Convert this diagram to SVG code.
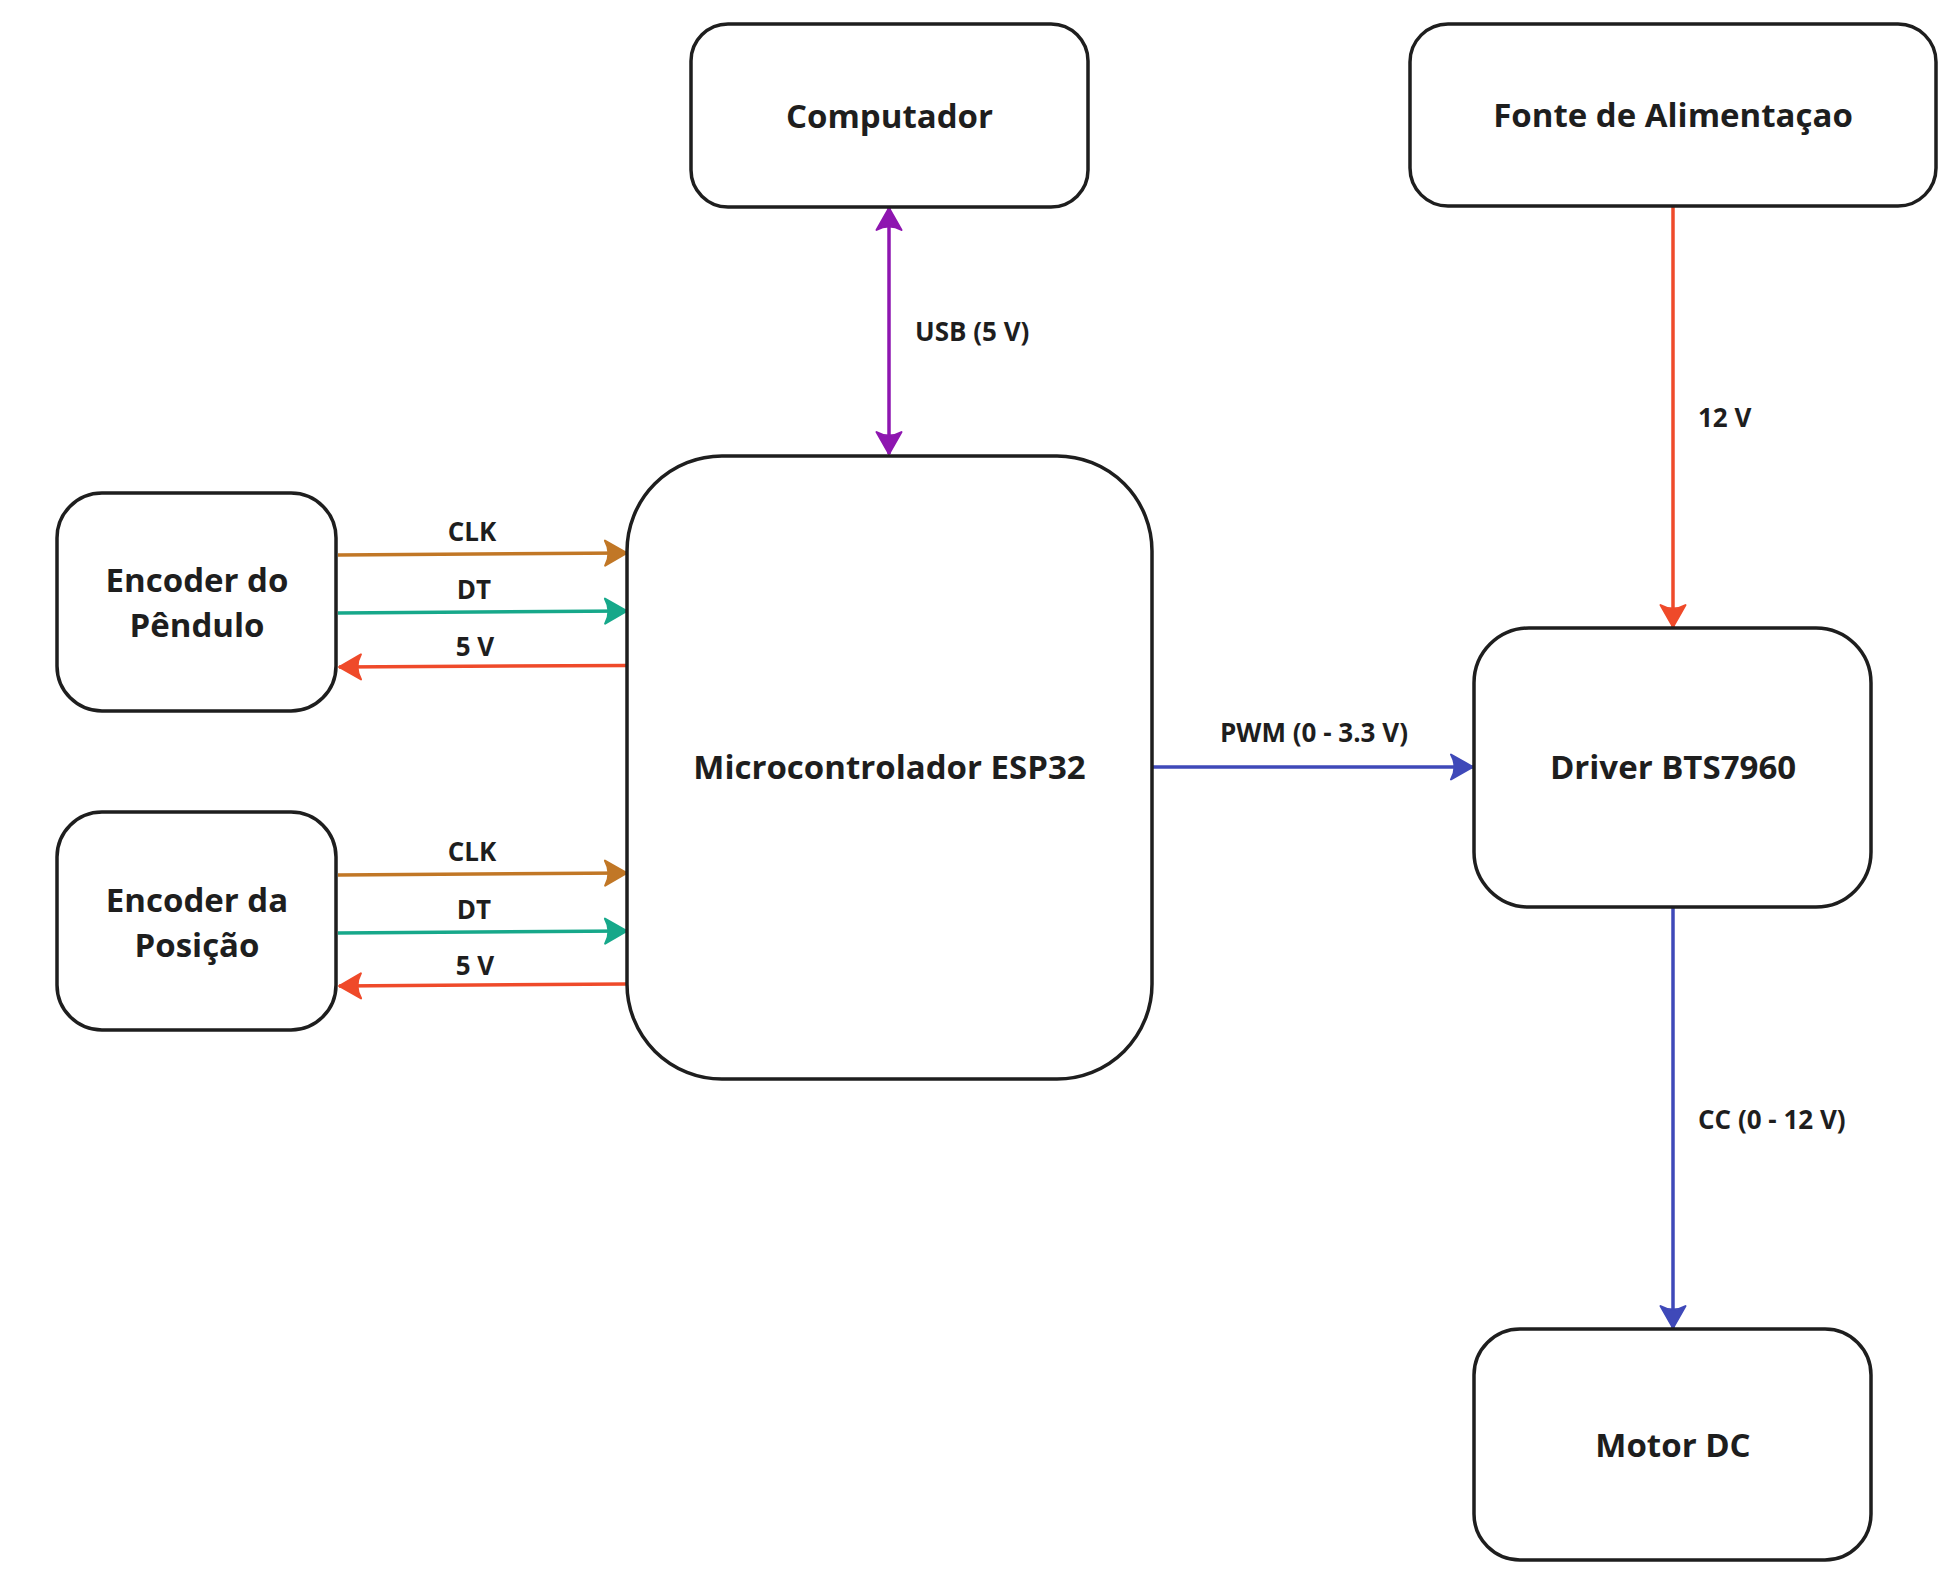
<svg xmlns="http://www.w3.org/2000/svg" width="1947" height="1572" viewBox="0 0 1947 1572">
<style>
.node rect{fill:#ffffff;stroke:#1e1e1e;stroke-width:3.5}
.nt{font-family:"Open Sans","Noto Sans","Liberation Sans",sans-serif;font-weight:700;font-size:33px;fill:#1e1e1e;text-anchor:middle}
.lbl{font-family:"Open Sans","Noto Sans","Liberation Sans",sans-serif;font-weight:700;font-size:26px;fill:#1e1e1e}
.c{fill:none;stroke-width:3.5}
</style>
<defs>
<marker id="aBrown" viewBox="-25 -15 27 30" refX="0" refY="0" markerWidth="27" markerHeight="30" markerUnits="userSpaceOnUse" orient="auto-start-reverse"><path d="M0,0 L-22,-12.5 Q-15,0 -22,12.5 Z" fill="#c17726" stroke="#c17726" stroke-width="2" stroke-linejoin="round"/></marker>
<marker id="aTeal" viewBox="-25 -15 27 30" refX="0" refY="0" markerWidth="27" markerHeight="30" markerUnits="userSpaceOnUse" orient="auto-start-reverse"><path d="M0,0 L-22,-12.5 Q-15,0 -22,12.5 Z" fill="#17a88a" stroke="#17a88a" stroke-width="2" stroke-linejoin="round"/></marker>
<marker id="aRed" viewBox="-25 -15 27 30" refX="0" refY="0" markerWidth="27" markerHeight="30" markerUnits="userSpaceOnUse" orient="auto-start-reverse"><path d="M0,0 L-22,-12.5 Q-15,0 -22,12.5 Z" fill="#ef4a2a" stroke="#ef4a2a" stroke-width="2" stroke-linejoin="round"/></marker>
<marker id="aPurple" viewBox="-25 -15 27 30" refX="0" refY="0" markerWidth="27" markerHeight="30" markerUnits="userSpaceOnUse" orient="auto-start-reverse"><path d="M0,0 L-22,-12.5 Q-15,0 -22,12.5 Z" fill="#8e16b0" stroke="#8e16b0" stroke-width="2" stroke-linejoin="round"/></marker>
<marker id="aBlue" viewBox="-25 -15 27 30" refX="0" refY="0" markerWidth="27" markerHeight="30" markerUnits="userSpaceOnUse" orient="auto-start-reverse"><path d="M0,0 L-22,-12.5 Q-15,0 -22,12.5 Z" fill="#3f49b9" stroke="#3f49b9" stroke-width="2" stroke-linejoin="round"/></marker>
</defs>
<rect x="0" y="0" width="1947" height="1572" fill="#ffffff"/>

<g id="connectors">
<line class="c" x1="889" y1="208" x2="889" y2="454" stroke="#8e16b0" marker-start="url(#aPurple)" marker-end="url(#aPurple)"/>
<text class="lbl" x="915" y="341">USB (5 V)</text>

<line class="c" x1="338" y1="555" x2="627" y2="553" stroke="#c17726" marker-end="url(#aBrown)"/>
<text class="lbl" x="472" y="541" text-anchor="middle">CLK</text>
<line class="c" x1="338" y1="613" x2="627" y2="611" stroke="#17a88a" marker-end="url(#aTeal)"/>
<text class="lbl" x="474" y="599" text-anchor="middle">DT</text>
<line class="c" x1="626" y1="665.5" x2="339" y2="667" stroke="#ef4a2a" marker-end="url(#aRed)"/>
<text class="lbl" x="475" y="656" text-anchor="middle">5 V</text>

<line class="c" x1="338" y1="875" x2="627" y2="873" stroke="#c17726" marker-end="url(#aBrown)"/>
<text class="lbl" x="472" y="861" text-anchor="middle">CLK</text>
<line class="c" x1="338" y1="933" x2="627" y2="931" stroke="#17a88a" marker-end="url(#aTeal)"/>
<text class="lbl" x="474" y="919" text-anchor="middle">DT</text>
<line class="c" x1="626" y1="984" x2="339" y2="986" stroke="#ef4a2a" marker-end="url(#aRed)"/>
<text class="lbl" x="475" y="975" text-anchor="middle">5 V</text>

<line class="c" x1="1153" y1="767" x2="1473" y2="767" stroke="#3f49b9" marker-end="url(#aBlue)"/>
<text class="lbl" x="1314" y="742" text-anchor="middle">PWM (0 - 3.3 V)</text>

<line class="c" x1="1673" y1="207" x2="1673" y2="627" stroke="#ef4a2a" marker-end="url(#aRed)"/>
<text class="lbl" x="1698" y="427">12 V</text>

<line class="c" x1="1673" y1="908" x2="1673" y2="1328" stroke="#3f49b9" marker-end="url(#aBlue)"/>
<text class="lbl" x="1698" y="1129">CC (0 - 12 V)</text>
</g>

<g id="computador" class="node">
<rect x="691" y="24" width="397" height="183" rx="37"/>
<text class="nt" x="889.5" y="128">Computador</text>
</g>
<g id="fonte" class="node">
<rect x="1410" y="24" width="526" height="182" rx="38"/>
<text class="nt" x="1673" y="127">Fonte de Alimentaçao</text>
</g>
<g id="esp32" class="node">
<rect x="627" y="456" width="525" height="623" rx="95"/>
<text class="nt" x="889.5" y="779">Microcontrolador ESP32</text>
</g>
<g id="encoder-pendulo" class="node">
<rect x="57" y="493" width="279" height="218" rx="45"/>
<text class="nt" x="197" y="592">Encoder do</text>
<text class="nt" x="197" y="637">Pêndulo</text>
</g>
<g id="encoder-posicao" class="node">
<rect x="57" y="812" width="279" height="218" rx="45"/>
<text class="nt" x="197" y="912">Encoder da</text>
<text class="nt" x="197" y="957">Posição</text>
</g>
<g id="driver" class="node">
<rect x="1474" y="628" width="397" height="279" rx="55"/>
<text class="nt" x="1673" y="779">Driver BTS7960</text>
</g>
<g id="motor" class="node">
<rect x="1474" y="1329" width="397" height="231" rx="46"/>
<text class="nt" x="1673" y="1457">Motor DC</text>
</g>
</svg>
